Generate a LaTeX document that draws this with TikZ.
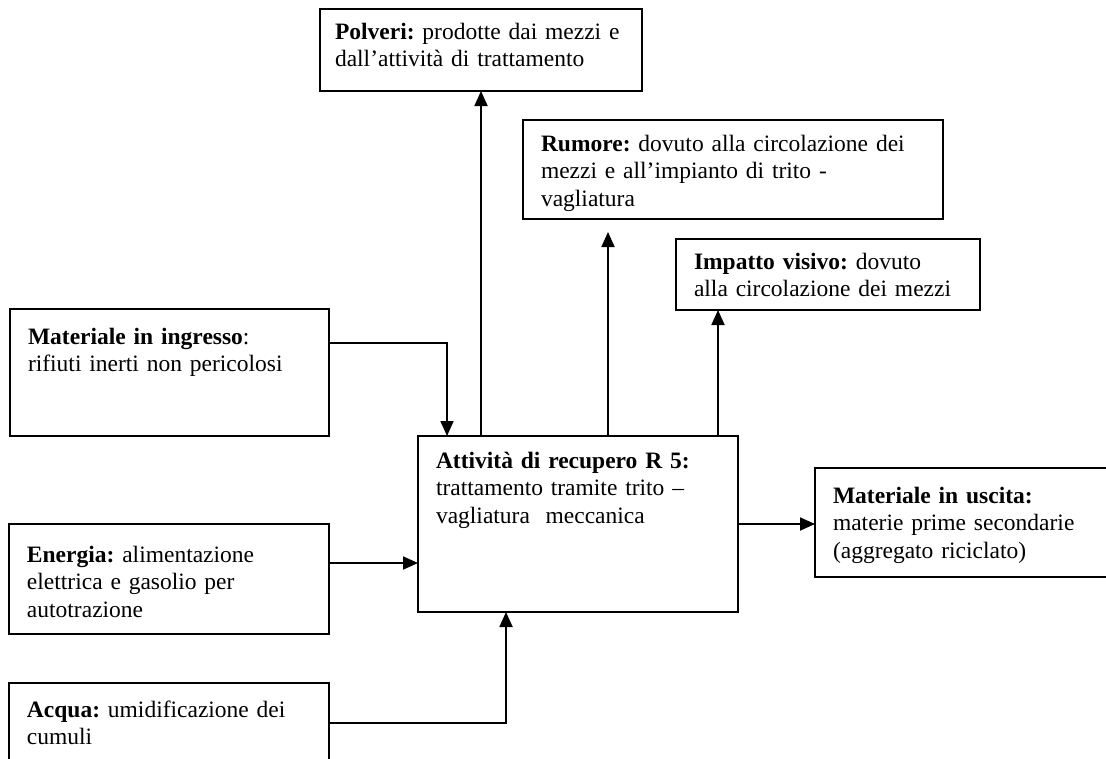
\documentclass[tikz,border=0pt]{standalone}
\usepackage{fontspec}
\setmainfont{Liberation Serif}
\usetikzlibrary{arrows.meta,positioning,calc}

\begin{document}
\begin{tikzpicture}[
    x=1pt, y=-1pt,
    box/.style={draw, line width=1.8pt, anchor=north west, align=left, inner xsep=18pt, inner ysep=0pt, outer sep=0pt, font=\fontsize{23.5}{27.5}\selectfont\frenchspacing},
    arrow/.style={-{Triangle[length=15pt, width=13pt]}, line width=1.8pt}
]
    \useasboundingbox (0,0) rectangle (1106,758);
    \clip (0,0) rectangle (1106,758);

    % Impatti in uscita (in alto)
    \node[box, inner xsep=15pt, text width=292pt, text height=30pt, text depth=52pt] (polveri) at (320,9) {\textbf{Polveri:} prodotte dai mezzi e\\dall’attività di trattamento};
    \node[box, text width=384pt, text height=31pt, text depth=68pt] (rumore) at (523,120) {\textbf{Rumore:} dovuto alla circolazione dei\\mezzi e all’impianto di trito -\\vagliatura};
    \node[box, text width=268pt, text height=30pt, text depth=41pt] (impatto) at (676,239) {\textbf{Impatto visivo:} dovuto\\alla circolazione dei mezzi};

    % Ingressi (a sinistra)
    \node[box, text width=283pt, text height=35pt, text depth=92pt] (ingresso) at (10,309) {\textbf{Materiale in ingresso}:\\rifiuti inerti non pericolosi};
    \node[box, text width=284pt, text height=38pt, text depth=72pt] (energia) at (9,524) {\textbf{Energia:} alimentazione\\elettrica e gasolio per\\autotrazione};
    \node[box, text width=284pt, text height=34pt, text depth=66pt] (acqua) at (9,683) {\textbf{Acqua:} umidificazione dei\\cumuli};

    % Attivita' centrale e uscita
    \node[box, text width=284pt, text height=32pt, text depth=144pt] (attivita) at (418,436) {\textbf{Attività di recupero R 5:}\\trattamento tramite trito –\\vagliatura\ \ meccanica};
    \node[box, text width=294pt, text height=35pt, text depth=74pt] (uscita) at (815,468) {\textbf{Materiale in uscita:}\\materie prime secondarie\\(aggregato riciclato)};

    % Frecce
    \draw[arrow] ($(ingresso.north east)+(0,34)$) -| ($(attivita.north west)+(29,0)$);
    \draw[arrow] (attivita.north -| polveri.south) -- (polveri.south);
    \draw[arrow] ($(attivita.north west)+(190,0)$) -- ($(rumore.south west)+(85,13)$);
    \draw[arrow] ($(attivita.north west)+(300,0)$) -- ($(impatto.south west)+(42,0)$);
    \draw[arrow] ($(energia.north east)+(0,39)$) -- ($(attivita.north west)+(0,127)$);
    \draw[arrow] ($(acqua.north east)+(0,40)$) -| ($(attivita.south west)+(88,0)$);
    \draw[arrow] (attivita.east) -- (attivita.east -| uscita.west);
\end{tikzpicture}
\end{document}
